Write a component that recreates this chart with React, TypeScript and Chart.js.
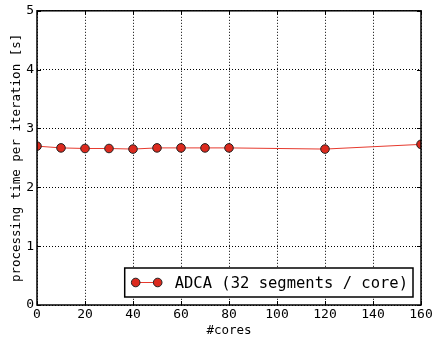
import React, { useEffect, useRef } from "react";
import { Chart, registerables } from "chart.js";

Chart.register(...registerables);

const cores = [0, 10, 20, 30, 40, 50, 60, 70, 80, 120, 160];
const timePerIteration = [2.7, 2.67, 2.66, 2.66, 2.65, 2.67, 2.67, 2.67, 2.67, 2.65, 2.73];
const seriesLabel = "ADCA (32 segments / core)";
const xTitle = "#cores";
const yTitle = "processing time per iteration [s]";

const FONT = "'DejaVu Sans Mono', monospace";
const POINT_FILL = "#dc2a1e";
const LINE_COLOR = "#e63a2e";

const framePlugin = {
  id: "frameAndTicks",
  afterDraw(chart: any) {
    const { ctx, chartArea: a, scales } = chart;
    ctx.save();
    ctx.strokeStyle = "#000";
    ctx.lineWidth = 1;
    const L = 4;
    ctx.beginPath();
    scales.x.ticks.forEach((t: any) => {
      const px = Math.round(scales.x.getPixelForValue(t.value)) + 0.5;
      ctx.moveTo(px, a.bottom);
      ctx.lineTo(px, a.bottom - L);
      ctx.moveTo(px, a.top);
      ctx.lineTo(px, a.top + L);
    });
    scales.y.ticks.forEach((t: any) => {
      const py = Math.round(scales.y.getPixelForValue(t.value)) + 0.5;
      ctx.moveTo(a.left, py);
      ctx.lineTo(a.left + L, py);
      ctx.moveTo(a.right, py);
      ctx.lineTo(a.right - L, py);
    });
    ctx.stroke();
    ctx.lineWidth = 1.5;
    ctx.strokeRect(a.left, a.top, a.right - a.left, a.bottom - a.top);

    // legend inside plot, lower right
    const label = chart.data.datasets[0].label as string;
    ctx.font = `15.5px ${FONT}`;
    const tw = ctx.measureText(label).width;
    const padL = 11, sample = 22, gap = 17, padR = 5, h = 29;
    const w = padL + sample + gap + tw + padR;
    const bx = a.right - 8 - w;
    const by = a.bottom - 8 - h;
    ctx.fillStyle = "#fff";
    ctx.fillRect(bx, by, w, h);
    ctx.lineWidth = 1.5;
    ctx.strokeStyle = "#000";
    ctx.strokeRect(bx, by, w, h);
    const cy = by + h / 2;
    ctx.strokeStyle = LINE_COLOR;
    ctx.lineWidth = 1;
    ctx.beginPath();
    ctx.moveTo(bx + padL, cy);
    ctx.lineTo(bx + padL + sample, cy);
    ctx.stroke();
    [bx + padL, bx + padL + sample].forEach((mx) => {
      ctx.beginPath();
      ctx.arc(mx, cy, 4.3, 0, Math.PI * 2);
      ctx.fillStyle = POINT_FILL;
      ctx.fill();
      ctx.strokeStyle = "#222";
      ctx.lineWidth = 1;
      ctx.stroke();
    });
    ctx.fillStyle = "#000";
    ctx.textBaseline = "middle";
    ctx.textAlign = "left";
    ctx.fillText(label, bx + padL + sample + gap, cy + 1);
    ctx.restore();
  },
};

export default function App() {
  const ref = useRef<HTMLCanvasElement | null>(null);
  useEffect(() => {
    if (!ref.current) return;
    const chart = new Chart(ref.current, {
      type: "line",
      data: {
        datasets: [
          {
            label: seriesLabel,
            data: cores.map((c, i) => ({ x: c, y: timePerIteration[i] })),
            borderColor: LINE_COLOR,
            borderWidth: 1,
            backgroundColor: POINT_FILL,
            pointBackgroundColor: POINT_FILL,
            pointBorderColor: "#222",
            pointBorderWidth: 1,
            pointRadius: 4.3,
            tension: 0,
            clip: 0,
          } as any,
        ],
      },
      options: {
        animation: false,
        responsive: true,
        maintainAspectRatio: false,
        layout: { padding: { top: 7, right: 17, left: 0, bottom: 0 } },
        plugins: { legend: { display: false }, tooltip: { enabled: false } },
        scales: {
          x: {
            type: "linear",
            min: 0,
            max: 160,
            ticks: { stepSize: 20, color: "#000", font: { family: FONT, size: 13 }, padding: 2 },
            grid: { color: "#000", lineWidth: 1, drawTicks: false },
            border: { display: false, dash: [1, 2] },
            title: { display: true, text: xTitle, color: "#000", font: { family: FONT, size: 12.5 }, padding: { top: 0, bottom: 0 } },
            afterFit: (s: any) => { s.height = 33; },
          },
          y: {
            type: "linear",
            min: 0,
            max: 5,
            ticks: { stepSize: 1, color: "#000", font: { family: FONT, size: 13 }, padding: 3 },
            grid: { color: "#000", lineWidth: 1, drawTicks: false },
            border: { display: false, dash: [1, 2] },
            title: { display: true, text: yTitle, color: "#000", font: { family: FONT, size: 12.5 }, padding: { top: 9, bottom: 0 } },
            afterFit: (s: any) => { s.width = 37; },
          },
        },
      },
      plugins: [framePlugin],
    });
    return () => chart.destroy();
  }, []);
  return (
    <div style={{ position: "absolute", left: 0, top: 0, width: 438, height: 338, background: "#fff" }}>
      <canvas ref={ref} />
    </div>
  );
}
